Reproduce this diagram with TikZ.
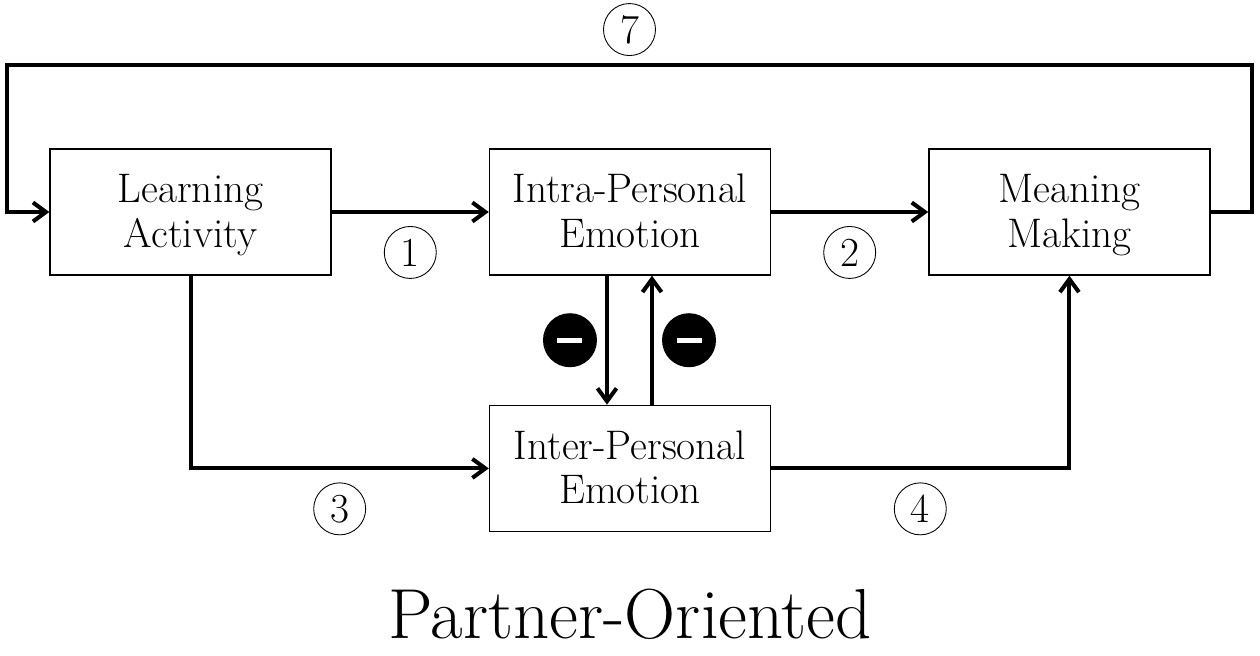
\documentclass[tikz,border=0pt]{standalone}
\usepackage{amsmath, amssymb, xcolor, tikz}
\usetikzlibrary{shapes,arrows.meta,positioning}

\begin{document}
\begin{tikzpicture}[every node/.style={font=\fontsize{23.5}{25.5}\selectfont},
	box/.style={draw, rectangle, line width=0.8pt, minimum width=5.62cm, minimum height=2.52cm, text width=5.4cm, align=center, inner sep=0pt, execute at begin node={\rule{0pt}{22.5pt}}, execute at end node=\strut},
	flow/.style={line width=2.3pt, -{Straight Barb[length=2.6mm, width=3.8mm]}},
	num/.style={draw, circle, line width=0.5pt, minimum size=1.04cm, inner sep=0pt},
	minus/.style={circle, fill=black, text=white, minimum size=1.08cm, inner sep=0pt}]
					\useasboundingbox (-12.6,-8.86) rectangle (12.6,4.24);
					\node[box] (intra) at (0,0) {Intra-Personal\\Emotion};
					\node[box] (la) [left=3.14cm of intra] {Learning\\Activity};
					\node[box] (mm) [right=3.14cm of intra] {Meaning\\Making};
					\node[box] (inter) [below=2.58cm of intra] {Inter-Personal\\Emotion};
					\coordinate (topr) at (12.44,2.94);
					\coordinate (topl) at (-12.46,2.94);
					\draw[flow] (la) -- node[num, below=0.28cm] {1} (intra);
					\draw[flow] (intra) -- node[num, below=0.28cm] {2} (mm);
					\draw[flow] (la.south) |- node[num, below=0.28cm, pos=0.75] {3} (inter.west);
					\draw[flow] (inter.east) -| node[num, below=0.28cm, pos=0.25] {4} (mm.south);
					\draw[flow] (mm.east) -| (topr) -- node[num, above=0.18cm] {7} (topl) |- (la.west);
					\draw[flow] ([xshift=-0.46cm]intra.south) -- node[minus, left=0.16cm] {\rule{0.5cm}{0.1cm}} ([xshift=-0.46cm]inter.north);
					\draw[flow] ([xshift=0.44cm]inter.north) -- node[minus, right=0.16cm] {\rule{0.5cm}{0.1cm}} ([xshift=0.44cm]intra.south);
					\node[font=\fontsize{40.3}{48}\selectfont, anchor=base] (title) at (0,-8.52) {Partner-Oriented};
				\end{tikzpicture}
\end{document}
